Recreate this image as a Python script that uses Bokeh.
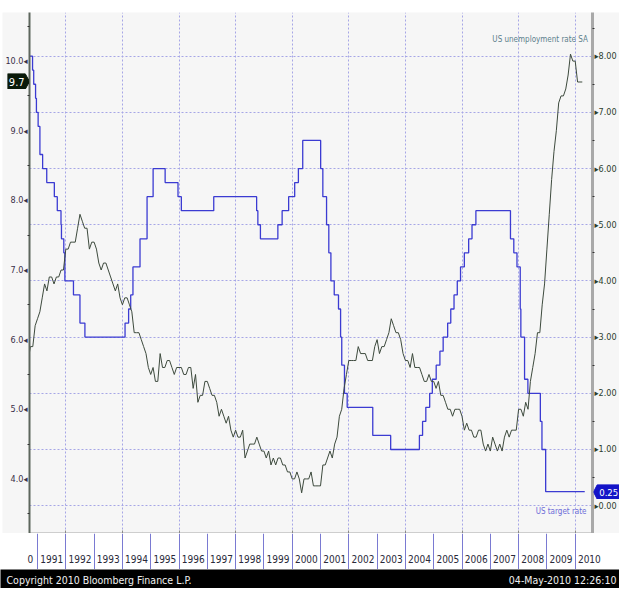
import pandas as pd
from bokeh.plotting import figure
from bokeh.models import Range1d, LinearAxis, FixedTicker, CustomJSTickFormatter, Label, Spacer
from bokeh.layouts import column
from bokeh.core.properties import value
from bokeh.embed import file_html
from bokeh.resources import INLINE

# ---------------- data ----------------
# US unemployment rate SA, monthly, first value = Aug 1990
unemp_first_month = "1990-08"
unemp_1990 = [5.7, 5.9, 5.9, 6.2, 6.3]
unemp_1991 = [6.4, 6.6, 6.8, 6.7, 6.9, 6.9, 6.8, 6.9, 6.9, 7.0, 7.0, 7.3]
unemp_1992 = [7.3, 7.4, 7.4, 7.4, 7.6, 7.8, 7.7, 7.6, 7.6, 7.3, 7.4, 7.4]
unemp_1993 = [7.3, 7.1, 7.0, 7.1, 7.1, 7.0, 6.9, 6.8, 6.7, 6.8, 6.6, 6.5]
unemp_1994 = [6.6, 6.6, 6.5, 6.4, 6.1, 6.1, 6.1, 6.0, 5.9, 5.8, 5.6, 5.5]
unemp_1995 = [5.6, 5.4, 5.4, 5.8, 5.6, 5.6, 5.7, 5.7, 5.6, 5.5, 5.6, 5.6]
unemp_1996 = [5.6, 5.5, 5.5, 5.6, 5.6, 5.3, 5.5, 5.1, 5.2, 5.2, 5.4, 5.4]
unemp_1997 = [5.3, 5.2, 5.2, 5.1, 4.9, 5.0, 4.9, 4.8, 4.9, 4.7, 4.6, 4.7]
unemp_1998 = [4.6, 4.6, 4.7, 4.3, 4.4, 4.5, 4.5, 4.5, 4.6, 4.5, 4.4, 4.4]
unemp_1999 = [4.3, 4.4, 4.2, 4.3, 4.2, 4.3, 4.3, 4.2, 4.2, 4.1, 4.1, 4.0]
unemp_2000 = [4.0, 4.1, 4.0, 3.8, 4.0, 4.0, 4.0, 4.1, 3.9, 3.9, 3.9, 3.9]
unemp_2001 = [4.2, 4.2, 4.3, 4.4, 4.3, 4.5, 4.6, 4.9, 5.0, 5.3, 5.5, 5.7]
unemp_2002 = [5.7, 5.7, 5.7, 5.9, 5.8, 5.8, 5.8, 5.7, 5.7, 5.7, 5.9, 6.0]
unemp_2003 = [5.8, 5.9, 5.9, 6.0, 6.1, 6.3, 6.2, 6.1, 6.1, 6.0, 5.8, 5.7]
unemp_2004 = [5.7, 5.6, 5.8, 5.6, 5.6, 5.6, 5.5, 5.4, 5.4, 5.5, 5.4, 5.4]
unemp_2005 = [5.3, 5.4, 5.2, 5.2, 5.1, 5.0, 5.0, 4.9, 5.0, 5.0, 5.0, 4.9]
unemp_2006 = [4.7, 4.8, 4.7, 4.7, 4.6, 4.6, 4.7, 4.7, 4.5, 4.4, 4.5, 4.4]
unemp_2007 = [4.6, 4.5, 4.4, 4.5, 4.4, 4.6, 4.7, 4.6, 4.7, 4.7, 4.7, 5.0]
unemp_2008 = [5.0, 4.9, 5.1, 5.0, 5.4, 5.6, 5.8, 6.1, 6.1, 6.5, 6.8, 7.3]
unemp_2009 = [7.8, 8.3, 8.7, 9.0, 9.4, 9.5, 9.5, 9.6, 9.8, 10.1, 10.0, 10.0]
unemp_2010 = [9.7, 9.7, 9.7]

# US target rate (Fed funds target): change dates and new levels
target_dates = [
    "1990-07-13", "1990-10-29", "1990-11-13", "1990-12-07", "1990-12-18",
    "1991-01-09", "1991-02-01", "1991-03-08", "1991-04-30", "1991-08-06",
    "1991-09-13", "1991-10-31", "1991-11-06", "1991-12-06", "1991-12-20",
    "1992-04-09", "1992-07-02", "1992-09-04", "1994-02-04", "1994-03-22",
    "1994-04-18", "1994-05-17", "1994-08-16", "1994-11-15", "1995-02-01",
    "1995-07-06", "1995-12-19", "1996-01-31", "1997-03-25", "1998-09-29",
    "1998-10-15", "1998-11-17", "1999-06-30", "1999-08-24", "1999-11-16",
    "2000-02-02", "2000-03-21", "2000-05-16", "2001-01-03", "2001-01-31",
    "2001-03-20", "2001-04-18", "2001-05-15", "2001-06-27", "2001-08-21",
    "2001-09-17", "2001-10-02", "2001-11-06", "2001-12-11", "2002-11-06",
    "2003-06-25", "2004-06-30", "2004-08-10", "2004-09-21", "2004-11-10",
    "2004-12-14", "2005-02-02", "2005-03-22", "2005-05-03", "2005-06-30",
    "2005-08-09", "2005-09-20", "2005-11-01", "2005-12-13", "2006-01-31",
    "2006-03-28", "2006-05-10", "2006-06-29", "2007-09-18", "2007-10-31",
    "2007-12-11", "2008-01-22", "2008-01-30", "2008-03-18", "2008-04-30",
    "2008-10-08", "2008-10-29", "2008-12-16", "2010-05-04",
]
target_values = [
    8.00, 7.75, 7.50, 7.25, 7.00,
    6.75, 6.25, 6.00, 5.75, 5.50,
    5.25, 5.00, 4.75, 4.50, 4.00,
    3.75, 3.25, 3.00, 3.25, 3.50,
    3.75, 4.25, 4.75, 5.50, 6.00,
    5.75, 5.50, 5.25, 5.50, 5.25,
    5.00, 4.75, 5.00, 5.25, 5.50,
    5.75, 6.00, 6.50, 6.00, 5.50,
    5.00, 4.50, 4.00, 3.75, 3.50,
    3.00, 2.50, 2.00, 1.75, 1.25,
    1.00, 1.25, 1.50, 1.75, 2.00,
    2.25, 2.50, 2.75, 3.00, 3.25,
    3.50, 3.75, 4.00, 4.25, 4.50,
    4.75, 5.00, 5.25, 4.75, 4.50,
    4.25, 3.50, 3.00, 2.25, 2.00,
    1.50, 1.00, 0.25, 0.25,
]

year_labels = ["0"] + [str(y) for y in range(1991, 2011)]
year_label_pos = [1990.75] + [y + 0.5 for y in range(1991, 2011)]
year_bounds = list(range(1991, 2011))
left_ticks = [4.0, 5.0, 6.0, 7.0, 8.0, 9.0, 10.0]
right_ticks = [0, 1, 2, 3, 4, 5, 6, 7, 8]
last_unemp = 9.7
last_target = 0.25
unemp_name = "US unemployment rate SA"
target_name = "US target rate"
footer_left = "Copyright 2010 Bloomberg Finance L.P."
footer_right = "04-May-2010 12:26:10"

# ---------------- prep ----------------
unemp = (unemp_1990 + unemp_1991 + unemp_1992 + unemp_1993 + unemp_1994 + unemp_1995
         + unemp_1996 + unemp_1997 + unemp_1998 + unemp_1999 + unemp_2000 + unemp_2001
         + unemp_2002 + unemp_2003 + unemp_2004 + unemp_2005 + unemp_2006 + unemp_2007
         + unemp_2008 + unemp_2009 + unemp_2010)
months = pd.period_range(unemp_first_month, periods=len(unemp), freq="M")
ux = [m.year + m.month / 12.0 for m in months]  # plotted at month end


def dec_year(s):
    t = pd.Timestamp(s)
    n = 366 if t.is_leap_year else 365
    return t.year + (t.dayofyear - 1) / n


tx = [dec_year(d) for d in target_dates]

# ---------------- layout constants ----------------
FONT = "DejaVu Sans Condensed"
PAGE_W = 619
TOP = 12                       # white band above the plot area
ML, MR = 29, 27                # side borders holding the axes
FW, FH = PAGE_W - ML - MR, 521
PX_PER_YEAR = 28.3
X0 = 1990.717
X1 = X0 + FW / PX_PER_YEAR
YL = (3.216, 10.698)           # unemployment (left) range
YR = (-0.495, 8.777)           # target rate (right) range
GREY = "#f6f6f6"
GRID = "#a6a6e6"

p = figure(frame_width=FW, frame_height=FH, x_range=Range1d(X0, X1),
           y_range=Range1d(*YR), y_axis_location="right",
           output_backend="svg", toolbar_location=None,
           min_border_left=ML, min_border_right=MR, min_border_top=0, min_border_bottom=0,
           background_fill_color=GREY, border_fill_color="white",
           outline_line_color=None)
p.extra_y_ranges = {"unemp": Range1d(*YL)}

p.xgrid.ticker = FixedTicker(ticks=list(range(1992, 2011, 2)))
p.xgrid.grid_line_color = GRID
p.xgrid.grid_line_dash = "2 2"
p.ygrid.grid_line_color = GRID
p.ygrid.grid_line_dash = "2 2"

# bottom axis: frame line with small inward ticks only
xa = p.xaxis[0]
xa.ticker = FixedTicker(ticks=list(range(1992, 2011, 2)), minor_ticks=[])
xa.formatter = CustomJSTickFormatter(code="return '';")
xa.major_tick_in = 3
xa.major_tick_out = 0
xa.major_tick_line_color = "#8a8a8a"
xa.major_label_standoff = 0
xa.major_label_text_font_size = "0px"
xa.axis_line_color = "#5a5a5a"
xa.axis_line_width = 1.5

# right axis (target rate)
ra = p.yaxis[0]
ra.ticker = FixedTicker(ticks=right_ticks, minor_ticks=[v + 0.5 for v in range(-1, 9)])
ra.formatter = CustomJSTickFormatter(code="return '\u25B8' + tick.toFixed(2);")
ra.axis_line_color = "#a9a9a9"
ra.axis_line_width = 3
ra.major_tick_line_color = None
ra.major_tick_out = 0
ra.major_tick_in = 0
ra.minor_tick_out = 2
ra.minor_tick_in = 0
ra.minor_tick_line_color = "#333333"
ra.major_label_standoff = 0
ra.major_label_text_font = FONT
ra.major_label_text_font_size = "9px"
ra.major_label_text_color = "#2d3d2d"

# left axis (unemployment)
la = LinearAxis(y_range_name="unemp")
la.ticker = FixedTicker(ticks=left_ticks, minor_ticks=[v + 0.5 for v in range(3, 11)])
la.formatter = CustomJSTickFormatter(code="return tick.toFixed(1) + '\u25C2';")
la.axis_line_color = "#5d665d"
la.axis_line_width = 2
la.major_tick_line_color = None
la.major_tick_out = 0
la.major_tick_in = 0
la.minor_tick_out = 2
la.minor_tick_in = 0
la.minor_tick_line_color = "#333333"
la.major_label_standoff = 0
la.major_label_text_font = FONT
la.major_label_text_font_size = "9px"
la.major_label_text_color = "#3a3048"
p.add_layout(la, "left")

for ax in (la, ra):
    ax.background_fill_color = GREY

# series
p.step(tx, target_values, mode="after", line_color="#3b3bd2", line_width=1.3)
p.line(ux, unemp, y_range_name="unemp", line_color="#3d4a3d", line_width=1)

# in-plot series names
p.add_layout(Label(x=2010.45, y=8.29, text=unemp_name, text_align="right",
                   text_baseline="middle", text_font=FONT, text_font_size="8px",
                   text_color="#5c7f8c"))
p.add_layout(Label(x=2010.4, y=-0.11, text=target_name, text_align="right",
                   text_baseline="middle", text_font=FONT, text_font_size="8px",
                   text_color="#6c6cd8"))

# year label strip (white cells with purple separators), spans the full width
ppy = FW / (X1 - X0)
lab = figure(width=PAGE_W, height=36,
             x_range=Range1d(X0 - ML / ppy, X1 + MR / ppy), y_range=Range1d(0, 1),
             x_axis_location=None, y_axis_location=None, output_backend="svg",
             toolbar_location=None, min_border=0,
             background_fill_color="white", border_fill_color="white",
             outline_line_color=None)
lab.ygrid.visible = False
lab.xgrid.ticker = FixedTicker(ticks=year_bounds)
lab.xgrid.grid_line_color = "#7a7ad2"
lab.xgrid.grid_line_width = 1
lab.text(x=year_label_pos, y=[0.29] * len(year_label_pos), text=year_labels,
         text_align="center", text_baseline="middle", text_font=value(FONT),
         text_font_size="10px", text_color="#2a2a3a")

# footer bar
f = figure(width=PAGE_W, height=19, x_range=Range1d(0, PAGE_W), y_range=Range1d(0, 1),
           x_axis_location=None, y_axis_location=None, output_backend="svg",
           toolbar_location=None, min_border=0, background_fill_color="black",
           border_fill_color="black", outline_line_color=None)
f.grid.visible = False
f.text(x=[6], y=[0.47], text=[footer_left], text_align="left", text_baseline="middle",
       text_font=value(FONT), text_font_size="10.5px", text_color="#f0f0f0")
f.text(x=[PAGE_W - 3], y=[0.47], text=[footer_right], text_align="right",
       text_baseline="middle", text_font=value(FONT), text_font_size="10.5px",
       text_color="#f0f0f0")


# last-value badges, overlaid at the position of the value on its axis scale
def page_y(v, rng):
    lo, hi = rng
    return TOP + (hi - v) / (hi - lo) * FH


def badge(text, fill, w, h, left, center_y, pointing, size):
    b = figure(width=w, height=h, x_range=Range1d(0, 1), y_range=Range1d(0, 1),
               x_axis_location=None, y_axis_location=None, output_backend="svg",
               toolbar_location=None, min_border=0, outline_line_color=None,
               background_fill_alpha=0, border_fill_alpha=0,
               styles={"position": "absolute", "left": f"{left}px",
                       "top": f"{round(center_y - h / 2)}px", "z-index": "10"})
    b.grid.visible = False
    if pointing == "right":
        b.patch([0, 0.8, 1, 0.8, 0], [0, 0, 0.5, 1, 1], fill_color=fill, line_color=fill)
        tx_ = 0.42
    else:
        b.patch([0, 0.15, 1, 1, 0.15], [0.5, 0, 0, 1, 1], fill_color=fill, line_color=fill)
        tx_ = 0.585
    b.text(x=[tx_], y=[0.5], text=[text], text_align="center", text_baseline="middle",
           text_font=value(FONT), text_font_size=size, text_color="white")
    return b


b_left = badge(f"{last_unemp:.1f}", "#0a1a0a", 22, 16, 7,
               page_y(last_unemp, YL), "right", "11px")
b_right = badge(f"{last_target:.2f}", "#1414c8", PAGE_W - (ML + FW + 1), 15, ML + FW + 1,
                page_y(last_target, YR), "left", "9.5px")

top = column(Spacer(height=TOP), p, spacing=0)
open("out.html", "w", encoding="utf-8").write(
    file_html([top, lab, f, b_left, b_right], INLINE))
